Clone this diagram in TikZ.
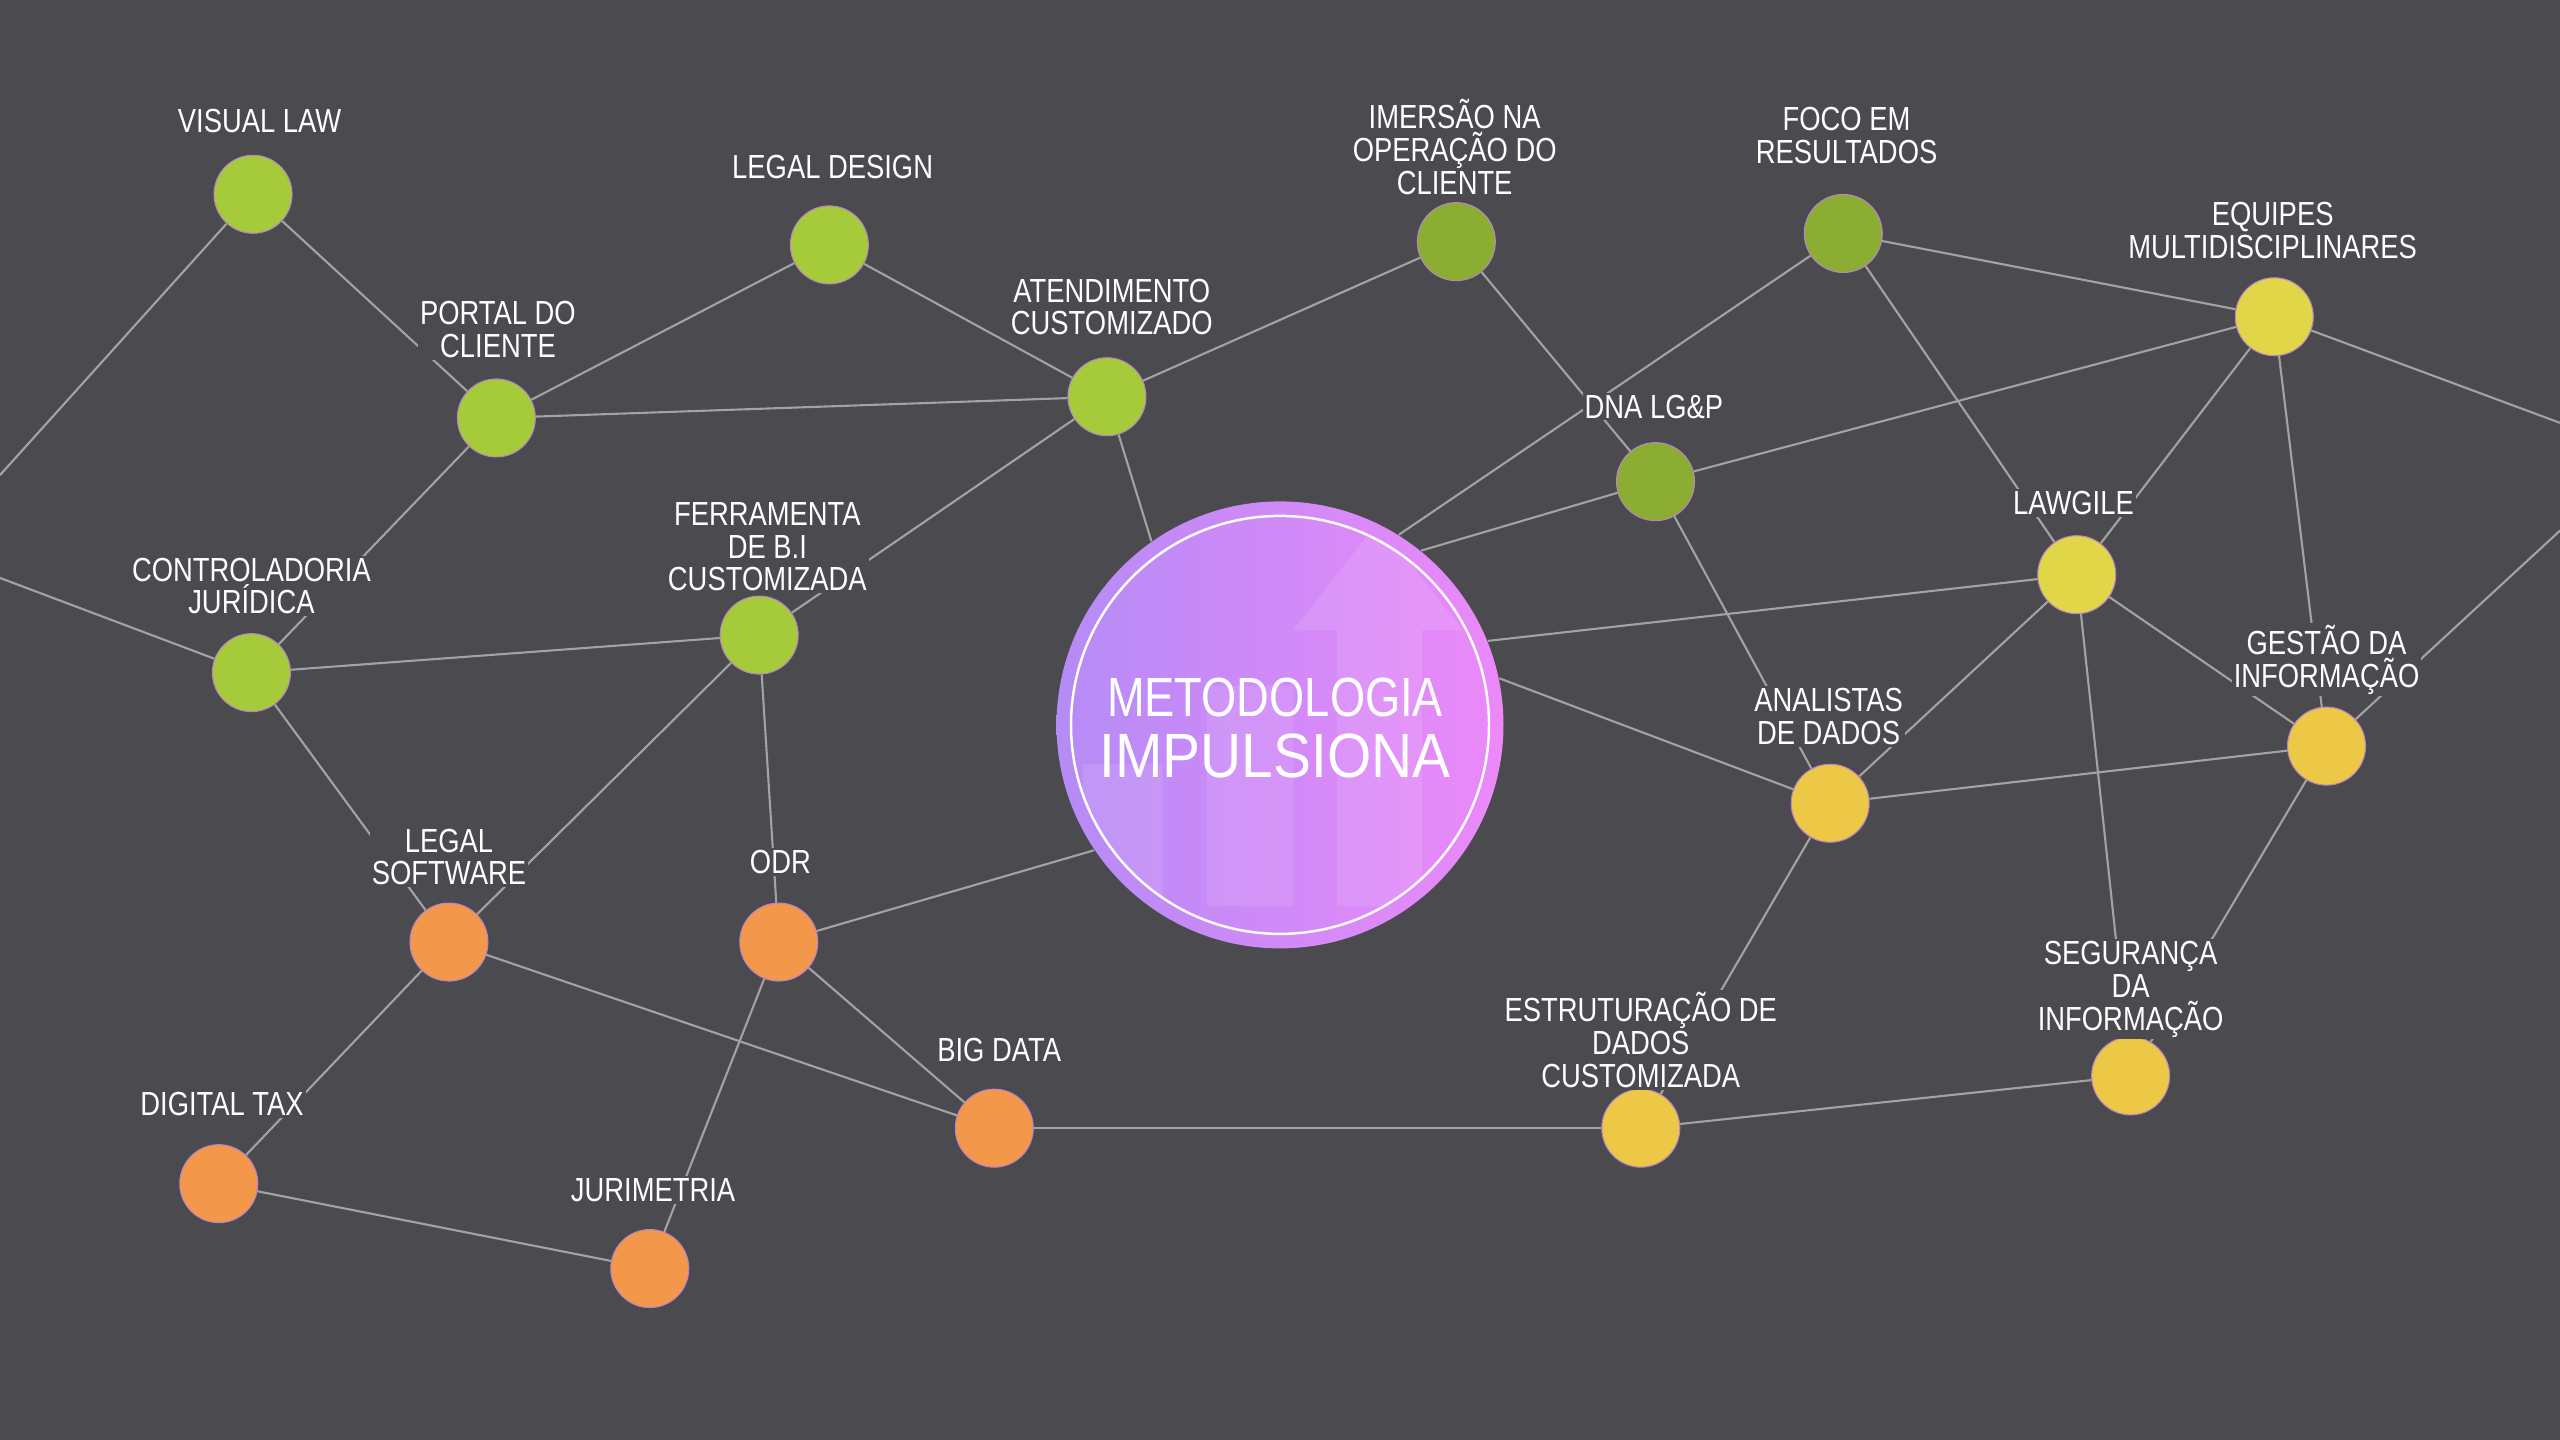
\documentclass[tikz,border=0pt]{standalone}
\usepackage{fontspec}
\setmainfont{Liberation Sans}[FakeStretch=0.82]
\newfontfamily\widefont{Liberation Sans}[FakeStretch=0.91]
\usepackage{tikz}
\usetikzlibrary{shapes}
\usetikzlibrary{positioning}

\definecolor{bg}{HTML}{4A4A4F}
\definecolor{edge}{HTML}{A3A3A3}
\definecolor{rim}{HTML}{B884C4}
\definecolor{lime}{HTML}{A6CB3A}
\definecolor{olive}{HTML}{8BAE32}
\definecolor{lemon}{HTML}{E1D648}
\definecolor{gold}{HTML}{ECC846}
\definecolor{tangerine}{HTML}{F3974A}
\definecolor{hubleft}{HTML}{B58BF6}
\definecolor{hubright}{HTML}{EC89F9}

\begin{document}
\begin{tikzpicture}[x=0.163265mm,y=-0.163265mm]
\tikzstyle{leaf}=[circle,minimum size=7.8mm,inner sep=0pt,draw=rim,line width=0.3pt]
\tikzstyle{tag}=[fill=bg,text=white,align=center,inner sep=0.6pt,font=\fontsize{9.5}{9.3}\selectfont]
\tikzstyle{link}=[draw=edge,line width=0.6pt]

\fill[bg] (0,0) rectangle (1568,882);
\clip (0,0) rectangle (1568,882);

% centre
\node[circle,minimum size=44.7mm,inner sep=0pt,left color=hubleft,right color=hubright] (hub) at (784,444) {};
\begin{scope}
\clip (hub.center) circle (20.9mm);
\fill[white,opacity=0.1] (663,468) rectangle (712,555) (739,420) rectangle (792,555) (819,386) rectangle (871,555);
\fill[white,opacity=0.1] (792,386) -- (844,320) -- (896,386) -- cycle;
\end{scope}
\draw[white,line width=0.7pt] (hub.center) circle (20.9mm);
\node[text=white,align=center,font=\fontsize{15.7}{17.2}\selectfont] (title) at (781,446)
  {METODOLOGIA\\\widefont\fontsize{17.8}{17.2}\selectfont IMPULSIONA};

% nodes
\node[leaf,fill=lime] (visual) at (155,119) {};
\node[leaf,fill=lime] (design) at (508,150) {};
\node[leaf,fill=lime] (portal) at (304,256) {};
\node[leaf,fill=lime] (atend) at (678,243) {};
\node[leaf,fill=lime] (contr) at (154,412) {};
\node[leaf,fill=lime] (bi) at (465,389) {};
\node[leaf,fill=olive] (imersao) at (892,148) {};
\node[leaf,fill=olive] (foco) at (1129,143) {};
\node[leaf,fill=olive] (dna) at (1014,295) {};
\node[leaf,fill=lemon] (equipes) at (1393,194) {};
\node[leaf,fill=lemon] (lawgile) at (1272,352) {};
\node[leaf,fill=gold] (gestao) at (1425,457) {};
\node[leaf,fill=gold] (analistas) at (1121,492) {};
\node[leaf,fill=gold] (seguranca) at (1305,659) {};
\node[leaf,fill=gold] (estrut) at (1005,691) {};
\node[leaf,fill=tangerine] (software) at (275,577) {};
\node[leaf,fill=tangerine] (odr) at (477,577) {};
\node[leaf,fill=tangerine] (bigdata) at (609,691) {};
\node[leaf,fill=tangerine] (tax) at (134,725) {};
\node[leaf,fill=tangerine] (jurim) at (398,777) {};

\coordinate (westA) at (0,291);
\coordinate (westB) at (0,354);
\coordinate (eastA) at (1568,259);
\coordinate (eastB) at (1568,325);

% links
\draw[link] (westA) -- (visual);
\draw[link] (visual) -- (portal);
\draw[link] (portal) -- (design);
\draw[link] (portal) -- (atend);
\draw[link] (design) -- (atend);
\draw[link] (portal) -- (contr);
\draw[link] (westB) -- (contr);
\draw[link] (contr) -- (bi);
\draw[link] (contr) -- (software);
\draw[link] (bi) -- (atend);
\draw[link] (bi) -- (software);
\draw[link] (bi) -- (odr);
\draw[link] (atend) -- (hub.125);
\draw[link] (atend) -- (imersao);
\draw[link] (imersao) -- (dna);
\draw[link] (foco) -- (hub.58);
\draw[link] (dna) -- (hub.51);
\draw[link] (dna) -- (equipes);
\draw[link] (dna) -- (analistas);
\draw[link] (foco) -- (equipes);
\draw[link] (foco) -- (lawgile);
\draw[link] (equipes) -- (lawgile);
\draw[link] (equipes) -- (gestao);
\draw[link] (equipes) -- (eastA);
\draw[link] (lawgile) -- (hub.22);
\draw[link] (lawgile) -- (analistas);
\draw[link] (lawgile) -- (gestao);
\draw[link] (lawgile) -- (seguranca);
\draw[link] (gestao) -- (eastB);
\draw[link] (gestao) -- (analistas);
\draw[link] (gestao) -- (seguranca);
\draw[link] (hub.12) -- (analistas);
\draw[link] (analistas) -- (estrut);
\draw[link] (estrut) -- (seguranca);
\draw[link] (estrut) -- (bigdata);
\draw[link] (hub.214) -- (odr);
\draw[link] (odr) -- (bigdata);
\draw[link] (odr) -- (jurim);
\draw[link] (software) -- (bigdata);
\draw[link] (software) -- (tax);
\draw[link] (tax) -- (jurim);

% labels
\node[tag] (visualtag) at (159,74) {VISUAL LAW};
\node[tag] (designtag) at (510,102) {LEGAL DESIGN};
\node[tag] (portaltag) at (305,202) {PORTAL DO\\CLIENTE};
\node[tag] (atendtag) at (681,188) {ATENDIMENTO\\CUSTOMIZADO};
\node[tag] (contrtag) at (154,359) {CONTROLADORIA\\JURÍDICA};
\node[tag] (bitag) at (470,335) {FERRAMENTA\\DE B.I\\CUSTOMIZADA};
\node[tag] (imersaotag) at (891,90) {IMERSÃO NA\\OPERAÇÃO DO\\CLIENTE};
\node[tag] (focotag) at (1131,83) {FOCO EM\\RESULTADOS};
\node[tag] (dnatag) at (1013,249) {DNA LG\&P};
\node[tag] (equipestag) at (1392,141) {EQUIPES\\MULTIDISCIPLINARES};
\node[tag] (lawgiletag) at (1270,308) {LAWGILE};
\node[tag] (gestaotag) at (1425,404) {GESTÃO DA\\INFORMAÇÃO};
\node[tag] (analistastag) at (1120,439) {ANALISTAS\\DE DADOS};
\node[tag] (segurancatag) at (1305,606) {SEGURANÇA\\DA\\INFORMAÇÃO};
\node[tag] (estruttag) at (1005,637) {ESTRUTURAÇÃO DE\\DADOS\\CUSTOMIZADA};
\node[tag] (softwaretag) at (275,525) {LEGAL\\SOFTWARE};
\node[tag] (odrtag) at (478,528) {ODR};
\node[tag] (bigdatatag) at (612,643) {BIG DATA};
\node[tag] (taxtag) at (136,676) {DIGITAL TAX};
\node[tag] (jurimtag) at (400,729) {JURIMETRIA};
\end{tikzpicture}
\end{document}
